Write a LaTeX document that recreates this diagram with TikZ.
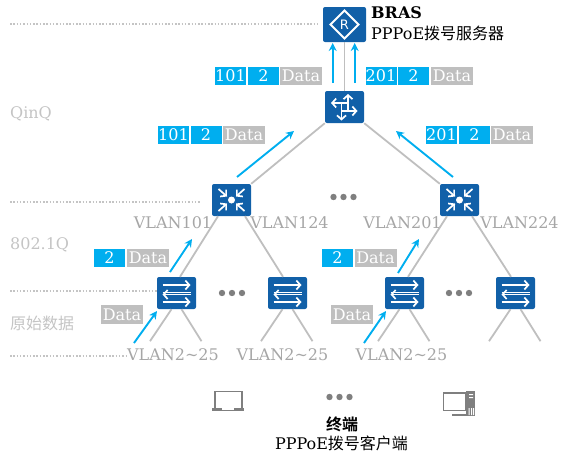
\documentclass[tikz,border=0pt]{standalone}
\usepackage{xcolor}
\usepackage{fontspec}
\setmainfont{DejaVu Serif}
\setsansfont{DejaVu Sans}
\newfontfamily\cjk{Noto Sans CJK SC}
\newfontfamily\cjkb{Noto Sans CJK SC Bold}
\usetikzlibrary{arrows.meta}
\definecolor{hwblue}{RGB}{17,96,168}
\definecolor{tagblue}{RGB}{0,174,239}
\definecolor{taggray}{RGB}{191,191,191}
\definecolor{vlangray}{RGB}{166,166,166}
\definecolor{sidegray}{RGB}{196,196,196}
\definecolor{iconGray}{RGB}{127,127,127}
\newcommand{\txt}{\fontsize{16}{19}\selectfont}
\tikzset{
  device/.style={rectangle, fill=hwblue, rounded corners=2pt, minimum width=39pt,
    minimum height=32pt, inner sep=0pt},
  bigdevice/.style={device, minimum width=43pt, minimum height=35pt, text=white,
    font=\sffamily\fontsize{13}{13}\selectfont},
  bluetag/.style={rectangle, fill=tagblue, text=white, minimum width=31pt,
    minimum height=18.5pt, inner sep=0pt, font=\txt},
  graytag/.style={rectangle, fill=taggray, text=white, minimum width=42pt,
    minimum height=18.5pt, inner sep=0pt, font=\txt},
  vlan/.style={text=vlangray, inner sep=0pt, font=\txt},
  side/.style={text=sidegray, inner sep=0pt, anchor=west, font=\txt},
  caption/.style={inner sep=0pt, font=\txt},
  link/.style={draw=taggray, line width=1.8pt},
  flow/.style={-{Stealth[length=8pt,width=8pt]}, draw=tagblue, line width=1.9pt},
  guide/.style={draw=sidegray, line width=1.5pt, dash pattern=on 1.5pt off 1.8pt},
  icon/.style={draw=white, line width=1.7pt},
  iconarrow/.style={icon, -{Straight Barb[length=4pt,width=9pt,line width=1.7pt]}},
  swicon/.pic={
    \draw[iconarrow] (-14,-8) -- (14,-8);
    \draw[iconarrow] (14,1.5) -- (-14,1.5);
    \draw[icon] (-14,-0.5) -- (14,-0.5);
    \draw[iconarrow] (-14,9) -- (14,9);
  },
  coreicon/.pic={
    \draw[iconarrow] (-13,-11) -- (-4.5,-3.5);
    \draw[iconarrow] (13,-11) -- (4.5,-3.5);
    \draw[iconarrow] (-13,11) -- (-4.5,3.5);
    \draw[iconarrow] (13,11) -- (4.5,3.5);
    \fill[white] (0,0) circle (3.5pt);
  },
  rticon/.pic={
    \draw[iconarrow] (3.5,4) -- (3.5,-13);
    \draw[iconarrow] (3.5,-4) -- (-13.5,-4);
    \draw[iconarrow] (-3,4) -- (13,4);
    \draw[iconarrow] (-3,-4) -- (-3,13.5);
  },
  brasicon/.pic={
    \draw[icon, line width=2pt] (-14,0) -- (0,-14) -- (14,0) -- (0,14) -- cycle;
  },
  threedots/.pic={
    \fill[iconGray] (-10,0) circle (3.2pt) (0,0) circle (3.2pt) (10,0) circle (3.2pt);
  },
  laptop/.pic={
    \draw[iconGray, line width=1.5pt] (-14,9) -- (-14,-8.5) -- (13,-8.5) -- (13,9);
    \fill[iconGray] (-17,8) rectangle (15,11);
    \fill[white] (-7,8) rectangle (5,9.5);
  },
  desktop/.pic={
    \fill[iconGray] (8,-12) rectangle (17,13);
    \fill[white] (11,-9) rectangle (15,-8) (11,-6) rectangle (15,-5)
      (10.5,5) rectangle (11.5,12) (13,5) rectangle (14,12) (15,5) rectangle (16,12);
    \draw[iconGray, fill=white, line width=1.8pt] (-14.5,-10) rectangle (8,7.5);
    \fill[iconGray] (-6,10.5) rectangle (8,12.5);
  }
}
\begin{document}
\begin{tikzpicture}[x=1pt, y=-1pt]
  \useasboundingbox (0,0) rectangle (565,458);

  \draw[guide] (10,24) -- (317,24);
  \draw[guide] (10,202) -- (201,202);
  \draw[guide] (10,291) -- (157,291);
  \draw[guide] (10,356) -- (128,356);

  \node[bigdevice] (bras) at (344.5,24.5) {R};
  \node[device] (rt) at (344.5,107) {};
  \node[device] (l3a) at (231.5,200) {};
  \node[device] (l3b) at (459.5,200) {};
  \node[device] (l2a) at (176.5,293) {};
  \node[device] (l2b) at (287.5,293) {};
  \node[device] (l2c) at (404.5,293) {};
  \node[device] (l2d) at (515.5,293) {};

  \pic at (bras) {brasicon};
  \pic at (rt) {rticon};
  \pic at (l3a) {coreicon};
  \pic at (l3b) {coreicon};
  \foreach \sw in {a,b,c,d} {
    \pic at (l2\sw) {swicon};
    \coordinate (lf\sw) at ([shift={(-26.5,32)}]l2\sw.south);
    \coordinate (rg\sw) at ([shift={(25,32)}]l2\sw.south);
    \draw[link] ([xshift=-5pt]l2\sw.south) -- (lf\sw);
    \draw[link] ([xshift=5pt]l2\sw.south) -- (rg\sw);
  }

  \draw[link] (bras) -- (rt);
  \draw[link] (rt.south west) -- (l3a.north east);
  \draw[link] (rt.south east) -- (l3b.north west);
  \draw[link] ([xshift=-13.5pt]l3a.south) -- ([xshift=3.5pt]l2a.north);
  \draw[link] ([xshift=13.5pt]l3a.south) -- ([xshift=-4.5pt]l2b.north);
  \draw[link] ([xshift=-12.5pt]l3b.south) -- ([xshift=3.5pt]l2c.north);
  \draw[link] ([xshift=12.5pt]l3b.south) -- ([xshift=-4.5pt]l2d.north);

  \coordinate (fa1) at (332.7,83);
  \coordinate (fa2) at (332.7,43);
  \coordinate (fb1) at (354.7,83);
  \coordinate (fb2) at (354.7,43);
  \coordinate (fc1) at (237,177);
  \coordinate (fc2) at (294,131);
  \coordinate (fd1) at (453,177);
  \coordinate (fd2) at (396,131);
  \coordinate (fe1) at (170,272);
  \coordinate (fe2) at (192,239);
  \coordinate (ff1) at (398,273);
  \coordinate (ff2) at (419,239);
  \coordinate (fg1) at (134,343);
  \coordinate (fg2) at (157,311);
  \coordinate (fh1) at (364,343);
  \coordinate (fh2) at (386,311);
  \draw[flow] (fa1) -- (fa2);
  \draw[flow] (fb1) -- (fb2);
  \draw[flow] (fc1) -- (fc2);
  \draw[flow] (fd1) -- (fd2);
  \draw[flow] (fe1) -- (fe2);
  \draw[flow] (ff1) -- (ff2);
  \draw[flow] (fg1) -- (fg2);
  \draw[flow] (fh1) -- (fh2);

  \node[bluetag] (ta1) at (230.5,76) {101};
  \node[bluetag] (ta2) at (263.5,76) {2};
  \node[graytag] (ta3) at (301,76) {Data};
  \node[bluetag] (tb1) at (381,76) {201};
  \node[bluetag] (tb2) at (413.5,76) {2};
  \node[graytag] (tb3) at (452,76) {Data};
  \node[bluetag] (tc1) at (173.5,135) {101};
  \node[bluetag] (tc2) at (206,135) {2};
  \node[graytag] (tc3) at (244,135) {Data};
  \node[bluetag] (td1) at (441.5,135) {201};
  \node[bluetag] (td2) at (474.5,135) {2};
  \node[graytag] (td3) at (512,135) {Data};
  \node[bluetag] (te1) at (109.5,258) {2};
  \node[graytag] (te2) at (148,258) {Data};
  \node[bluetag] (tf1) at (337.5,258) {2};
  \node[graytag] (tf2) at (375.5,258) {Data};
  \node[graytag] (tg1) at (122,314.5) {Data};
  \node[graytag] (th1) at (352,314.5) {Data};

  \node[vlan] (v1) at (173,223) {VLAN101};
  \node[vlan] (v2) at (289.5,223) {VLAN124};
  \node[vlan] (v3) at (402.5,223) {VLAN201};
  \node[vlan] (v4) at (519.5,223) {VLAN224};
  \node[vlan] (v5) at (173,355) {VLAN2\string~25};
  \node[vlan] (v6) at (282.5,355) {VLAN2\string~25};
  \node[vlan] (v7) at (401.5,355) {VLAN2\string~25};

  \node[side] (qinq) at (10,114) {QinQ};
  \node[side] (dot1q) at (10,245) {802.1Q};
  \node[side] (raw) at (10,323) {\cjk 原始数据};

  \pic at (343.5,197) {threedots};
  \pic at (232,293) {threedots};
  \pic at (459,293) {threedots};
  \pic at (339.5,397) {threedots};
  \pic at (229,400) {laptop};
  \pic at (458,403) {desktop};

  \node[caption, anchor=west] (brasname) at (371,13) {\textbf{BRAS}};
  \node[caption, anchor=west] (brasrole) at (371,33) {PPPoE{\cjk 拨号服务器}};
  \node[caption] (termname) at (342,424) {\cjkb 终端};
  \node[caption] (termrole) at (341.5,443) {PPPoE{\cjk 拨号客户端}};
\end{tikzpicture}
\end{document}
